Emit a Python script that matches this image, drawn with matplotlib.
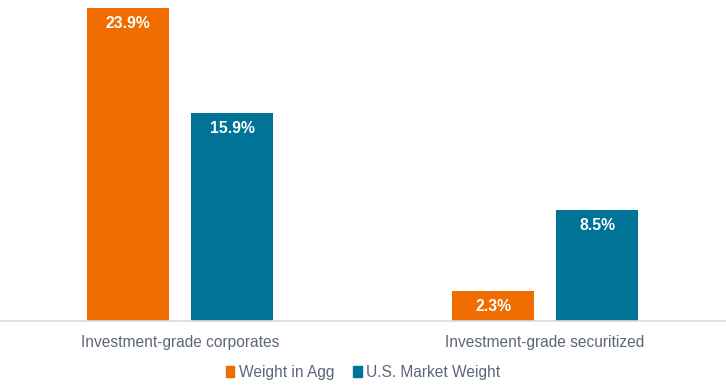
import matplotlib.pyplot as plt
import numpy as np
from matplotlib.patches import Patch

categories = ["Investment-grade corporates", "Investment-grade securitized"]
series_names = ["Weight in Agg", "U.S. Market Weight"]
weight_in_agg = [23.9, 2.3]
market_weight = [15.9, 8.5]

orange = "#EF6C00"
teal = "#007396"
text_col = "#5D667C"

plt.rcParams["font.family"] = ["Liberation Sans", "DejaVu Sans"]

fig = plt.figure(figsize=(7.26, 3.87), dpi=100)
ax = fig.add_axes([0, 66 / 387, 1, 321 / 387])

x = np.arange(len(categories))
w = 82 / 365
off = 52 / 365

b1 = ax.bar(x - off, weight_in_agg, w, color=orange)
b2 = ax.bar(x + off, market_weight, w, color=teal)

for bars, vals in [(b1, weight_in_agg), (b2, market_weight)]:
    for bar, v in zip(bars, vals):
        ax.annotate(f"{v:.1f}%", (bar.get_x() + bar.get_width() / 2, v),
                    xytext=(0, -11.5), textcoords="offset points",
                    ha="center", va="center", color="white",
                    fontsize=11.3, fontweight="bold")

ax.set_xlim(-180 / 365, 1 + 181 / 365)
ax.set_ylim(0, 321 / 313 * 23.9)

for s in ["top", "right", "left"]:
    ax.spines[s].set_visible(False)
ax.spines["bottom"].set_color("#D9D9E3")
ax.spines["bottom"].set_linewidth(1.2)
ax.set_yticks([])
ax.set_xticks(x)
ax.set_xticklabels(categories, fontsize=11.2, color=text_col)
ax.tick_params(axis="x", length=0, pad=10)

handles = [Patch(color=orange), Patch(color=teal)]
fig.legend(handles, series_names, loc="center", bbox_to_anchor=(0.5, 1 - 372 / 387),
           ncol=2, frameon=False, fontsize=11.2, labelcolor=text_col,
           handlelength=0.55, handleheight=0.7, handletextpad=0.3, columnspacing=1.2)

fig.savefig("out.png", dpi=100)
